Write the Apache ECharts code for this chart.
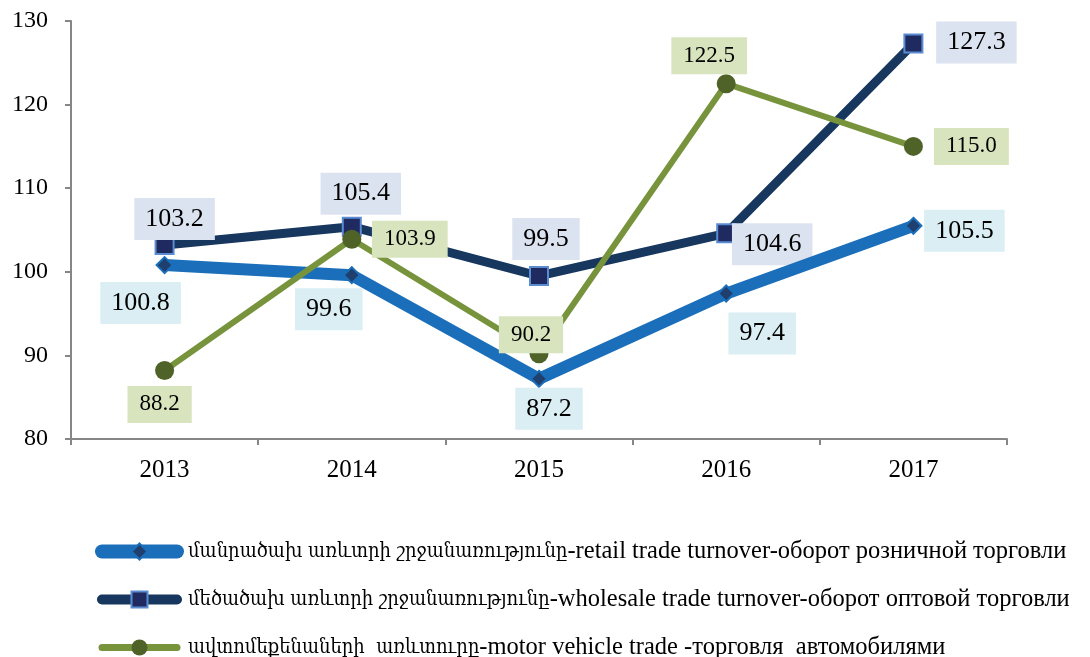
<!DOCTYPE html>
<html>
<head>
<meta charset="utf-8">
<script src="https://cdn.jsdelivr.net/npm/echarts@6/dist/echarts.min.js"></script>
<style>
  html, body { margin: 0; padding: 0; background: #fff; }
  #chartmain { width: 1090px; height: 657px; }
</style>
</head>
<body>
<div id="chartmain"></div>
<script>
var years = ['2013', '2014', '2015', '2016', '2017'];
var retail = [100.8, 99.6, 87.2, 97.4, 105.5];
var wholesale = [103.2, 105.4, 99.5, 104.6, 127.3];
var motor = [88.2, 103.9, 90.2, 122.5, 115.0];

var names = [
	'մանրածախ առևտրի շրջանառությունը-retail trade turnover-оборот розничной торговли',
	'մեծածախ առևտրի շրջանառությունը-wholesale trade turnover-оборот оптовой торговли',
	'ավտոմեքենաների  առևտուրը-motor vehicle trade -торговля  автомобилями'
];

// label offsets (px) from each point
var retailOff = [[-24, 38], [-23, 34], [10, 30], [36, 40], [51, 5]];
var wholesaleOff = [[10, -26], [9, -33], [7, -37], [46, 11], [63, -1]];
var motorOff = [[-5, 34], [58, 0], [-8, -19], [-17, -28], [58, 0]];

var font = "'Liberation Serif', 'DejaVu Serif', serif";
var armFont = "'DejaVu Serif Condensed', 'DejaVu Sans Condensed', 'DejaVu Serif', serif";

function withLabels(values, offs, bg, size, pad) {
	return values.map(function(v, i) {
		return {
			value: v,
			label: {
				show: true,
				position: 'inside',
				offset: offs[i],
				formatter: function(p) { return p.value.toFixed(1); },
				color: '#000',
				fontFamily: font,
				fontSize: size,
				lineHeight: size,
				backgroundColor: bg,
				padding: pad
			}
		};
	});
}

var option = {
	animation: false,
	textStyle: { fontFamily: font },
	grid: { left: 71, right: 83, top: 21, bottom: 218 },
	legend: {
		orient: 'vertical',
		left: 95,
		top: 539,
		height: 140,
		padding: 0,
		itemWidth: 75,
		itemHeight: 20,
		itemGap: 23,
		textStyle: {
			fontFamily: font, fontSize: 24, color: '#000',
			rich: {
				arm: { fontFamily: armFont, fontSize: 20, color: '#000', padding: [0, 0, 0, 6] },
				lat: { fontFamily: font, fontSize: 24.5, color: '#000' }
			}
		},
		formatter: function(name) {
			var k = name.indexOf('-');
			return '{arm|' + name.slice(0, k) + '}{lat|' + name.slice(k) + '}';
		},
		data: [
			{ name: names[0], lineStyle: { width: 14, cap: 'round' } },
			{ name: names[1], lineStyle: { width: 10, cap: 'round' } },
			{ name: names[2], lineStyle: { width: 7, cap: 'round' } }
		]
	},
	xAxis: {
		type: 'category',
		data: years,
		boundaryGap: true,
		axisLine: { lineStyle: { color: '#868686', width: 2 } },
		axisTick: { show: true, length: 6, lineStyle: { color: '#868686', width: 2 } },
		axisLabel: { color: '#000', fontSize: 25, fontFamily: font, margin: 19 }
	},
	yAxis: {
		type: 'value',
		min: 80,
		max: 130,
		interval: 10,
		splitLine: { show: false },
		axisLine: { show: true, lineStyle: { color: '#868686', width: 2 } },
		axisTick: { show: true, length: 6, lineStyle: { color: '#868686', width: 2 } },
		axisLabel: { color: '#000', fontSize: 24, fontFamily: font, margin: 23 }
	},
	series: [
		{
			name: names[0],
			type: 'line',
			data: withLabels(retail, retailOff, '#DAEEF3', 26, [8, 11]),
			symbol: 'diamond',
			symbolSize: 16,
			z: 3,
			lineStyle: { color: '#1B6FBA', width: 12, cap: 'round', join: 'round' },
			itemStyle: { color: '#1F3F6E', borderColor: '#1B6FBA', borderWidth: 2 }
		},
		{
			name: names[1],
			type: 'line',
			data: withLabels(wholesale, wholesaleOff, '#DCE3F0', 26, [8, 11]),
			symbol: 'rect',
			symbolSize: 18,
			z: 2,
			lineStyle: { color: '#17375E', width: 9, cap: 'round', join: 'round' },
			itemStyle: { color: '#1F2A60', borderColor: '#5B8BD0', borderWidth: 2 }
		},
		{
			name: names[2],
			type: 'line',
			data: withLabels(motor, motorOff, '#D7E4BD', 23, [7, 12]),
			symbol: 'circle',
			symbolSize: 19,
			z: 4,
			lineStyle: { color: '#77933C', width: 6, cap: 'round', join: 'round' },
			itemStyle: { color: '#4F6228', borderColor: '#4F6228', borderWidth: 0 }
		}
	]
};

var myChart = echarts.init(document.getElementById('chartmain'));
myChart.setOption(option);
</script>
</body>
</html>
